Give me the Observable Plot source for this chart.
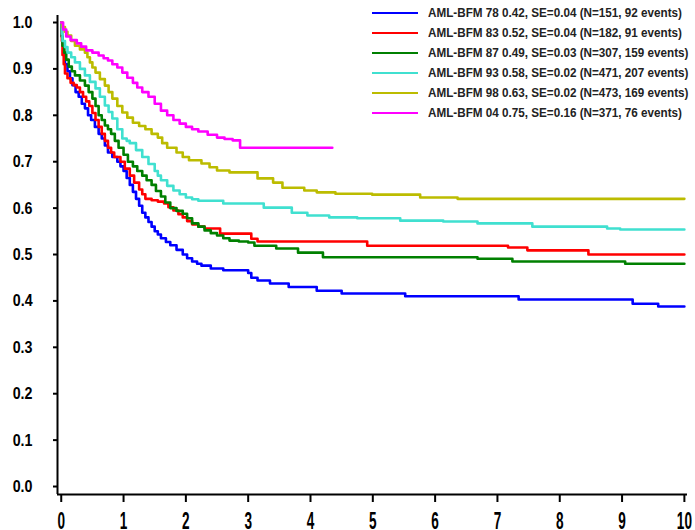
<!DOCTYPE html>
<html>
<head>
<meta charset="utf-8">
<script src="https://cdn.jsdelivr.net/npm/d3@7"></script>
<script src="https://cdn.jsdelivr.net/npm/@observablehq/plot@0.6"></script>
<style>
  body { margin: 0; background: #fff; }
  #wrap { position: relative; width: 695px; height: 530px; }
  #legend { position: absolute; left: 372px; top: 3px; font-family: "Liberation Sans", Arial, sans-serif; font-weight: bold; font-size: 12.5px; color: #222; white-space: nowrap; }
  .row { display: flex; align-items: center; height: 20px; }
  .sw { width: 46px; height: 2px; margin-right: 10px; flex: none; }
  .lt { display: inline-block; transform-origin: left center; }
</style>
</head>
<body>
<div id="wrap"><div id="legend"></div></div>
<script>
const FONT = '"Liberation Sans", Arial, sans-serif';

const seriesNames = ["AML-BFM 78", "AML-BFM 83", "AML-BFM 87", "AML-BFM 93", "AML-BFM 98", "AML-BFM 04"];
const legendStats = [
  "0.42, SE=0.04 (N=151, 92 events)",
  "0.52, SE=0.04 (N=182, 91 events)",
  "0.49, SE=0.03 (N=307, 159 events)",
  "0.58, SE=0.02 (N=471, 207 events)",
  "0.63, SE=0.02 (N=473, 169 events)",
  "0.75, SE=0.16 (N=371, 76 events)"
];
const colors = ["#0000ff", "#ff0000", "#008000", "#40e0d0", "#bcbc00", "#ff00ff"];

const xTicks = [0, 1, 2, 3, 4, 5, 6, 7, 8, 9, 10];
const yTicks = [0, 0.1, 0.2, 0.3, 0.4, 0.5, 0.6, 0.7, 0.8, 0.9, 1.0];
const xDomain = [-0.06, 10.05];
const yDomain = [-0.0172, 1.0151];

// AML-BFM 78
const t78 = [0, 0.01, 0.02, 0.04, 0.06, 0.1, 0.14, 0.18, 0.23, 0.28, 0.33, 0.38, 0.43, 0.48, 0.54, 0.6, 0.65, 0.7, 0.75, 0.82, 0.9, 0.95, 1.0, 1.05, 1.1, 1.15, 1.2, 1.25, 1.3, 1.35, 1.4, 1.45, 1.5, 1.55, 1.6, 1.68, 1.75, 1.85, 1.95, 2.02, 2.1, 2.18, 2.25, 2.4, 2.6, 3.0, 3.05, 3.15, 3.35, 3.65, 4.1, 4.5, 5.52, 7.34, 9.17, 9.58, 10.0];
const s78 = [1.0, 0.97, 0.95, 0.93, 0.91, 0.895, 0.88, 0.865, 0.85, 0.84, 0.825, 0.815, 0.80, 0.79, 0.775, 0.76, 0.75, 0.735, 0.72, 0.71, 0.70, 0.69, 0.68, 0.665, 0.65, 0.635, 0.62, 0.605, 0.59, 0.58, 0.57, 0.56, 0.55, 0.543, 0.535, 0.527, 0.52, 0.51, 0.50, 0.492, 0.485, 0.48, 0.476, 0.47, 0.466, 0.46, 0.45, 0.444, 0.4375, 0.43, 0.422, 0.416, 0.41, 0.403, 0.394, 0.388, 0.388];
// AML-BFM 83
const t83 = [0, 0.01, 0.02, 0.04, 0.06, 0.1, 0.15, 0.2, 0.25, 0.3, 0.35, 0.4, 0.45, 0.5, 0.55, 0.6, 0.65, 0.7, 0.75, 0.8, 0.85, 0.95, 1.02, 1.1, 1.17, 1.25, 1.3, 1.35, 1.45, 1.55, 1.65, 1.72, 1.8, 1.88, 1.95, 2.02, 2.1, 2.2, 2.3, 2.55, 3.05, 3.15, 4.91, 7.17, 7.48, 8.46, 10.0];
const s83 = [1.0, 0.96, 0.93, 0.91, 0.89, 0.88, 0.87, 0.865, 0.86, 0.85, 0.84, 0.83, 0.82, 0.805, 0.79, 0.775, 0.76, 0.745, 0.73, 0.72, 0.71, 0.70, 0.685, 0.67, 0.655, 0.64, 0.63, 0.62, 0.617, 0.614, 0.61, 0.602, 0.595, 0.587, 0.58, 0.572, 0.565, 0.56, 0.556, 0.545, 0.534, 0.528, 0.519, 0.515, 0.509, 0.50, 0.50];
// AML-BFM 87
const t87 = [0, 0.01, 0.02, 0.05, 0.08, 0.12, 0.17, 0.22, 0.3, 0.38, 0.44, 0.5, 0.55, 0.6, 0.65, 0.7, 0.75, 0.8, 0.86, 0.92, 1.0, 1.07, 1.15, 1.22, 1.3, 1.37, 1.45, 1.52, 1.6, 1.67, 1.75, 1.85, 1.95, 2.02, 2.1, 2.2, 2.3, 2.4, 2.5, 2.6, 2.7, 2.85, 3.0, 3.1, 3.45, 3.8, 4.2, 6.68, 7.24, 9.05, 10.0];
const s87 = [1.0, 0.97, 0.95, 0.935, 0.92, 0.905, 0.895, 0.886, 0.875, 0.864, 0.85, 0.836, 0.82, 0.80, 0.79, 0.778, 0.77, 0.76, 0.745, 0.73, 0.715, 0.70, 0.69, 0.68, 0.67, 0.66, 0.65, 0.637, 0.625, 0.612, 0.60, 0.594, 0.588, 0.578, 0.567, 0.56, 0.552, 0.546, 0.541, 0.535, 0.53, 0.528, 0.526, 0.519, 0.513, 0.504, 0.494, 0.491, 0.485, 0.48, 0.48];
// AML-BFM 93
const t93 = [0, 0.01, 0.02, 0.06, 0.1, 0.16, 0.22, 0.3, 0.38, 0.46, 0.55, 0.62, 0.7, 0.76, 0.82, 0.9, 0.98, 1.05, 1.1, 1.2, 1.3, 1.4, 1.5, 1.55, 1.6, 1.7, 1.8, 1.9, 2.0, 2.1, 2.2, 2.6, 3.25, 3.7, 3.95, 4.3, 4.75, 5.44, 6.13, 6.68, 7.56, 8.76, 8.97, 10.0];
const s93 = [1.0, 0.975, 0.96, 0.947, 0.935, 0.925, 0.914, 0.9, 0.886, 0.872, 0.858, 0.84, 0.821, 0.807, 0.793, 0.77, 0.75, 0.745, 0.74, 0.725, 0.71, 0.695, 0.68, 0.67, 0.66, 0.648, 0.638, 0.63, 0.623, 0.619, 0.616, 0.61, 0.601, 0.59, 0.584, 0.58, 0.578, 0.573, 0.571, 0.567, 0.56, 0.556, 0.554, 0.554];
// AML-BFM 98
const t98 = [0, 0.02, 0.06, 0.1, 0.16, 0.22, 0.3, 0.38, 0.42, 0.46, 0.5, 0.55, 0.62, 0.7, 0.76, 0.82, 0.9, 0.98, 1.06, 1.15, 1.25, 1.35, 1.45, 1.55, 1.62, 1.7, 1.85, 1.95, 2.05, 2.25, 2.38, 2.5, 2.7, 3.15, 3.4, 3.55, 3.9, 4.1, 4.4, 4.99, 5.76, 6.36, 10.0];
const s98 = [1.0, 0.99, 0.98, 0.972, 0.96, 0.95, 0.942, 0.935, 0.925, 0.914, 0.903, 0.892, 0.878, 0.864, 0.85, 0.836, 0.82, 0.806, 0.795, 0.784, 0.777, 0.77, 0.76, 0.752, 0.74, 0.73, 0.72, 0.71, 0.703, 0.696, 0.688, 0.681, 0.677, 0.664, 0.655, 0.644, 0.638, 0.634, 0.631, 0.629, 0.623, 0.62, 0.62];
// AML-BFM 04
const t04 = [0, 0.03, 0.08, 0.15, 0.25, 0.32, 0.4, 0.5, 0.6, 0.68, 0.75, 0.82, 0.9, 0.98, 1.06, 1.15, 1.22, 1.3, 1.4, 1.5, 1.6, 1.7, 1.8, 1.9, 2.0, 2.1, 2.2, 2.35, 2.5, 2.62, 2.75, 2.87, 4.35];
const s04 = [1.0, 0.985, 0.97, 0.962, 0.955, 0.948, 0.94, 0.935, 0.929, 0.923, 0.918, 0.91, 0.903, 0.892, 0.881, 0.87, 0.86, 0.85, 0.84, 0.825, 0.81, 0.80, 0.79, 0.782, 0.775, 0.77, 0.765, 0.758, 0.752, 0.749, 0.746, 0.73, 0.73];

const times = [t78, t83, t87, t93, t98, t04];
const surv = [s78, s83, s87, s93, s98, s04];

const rows = [];
seriesNames.forEach((name, i) => {
  times[i].forEach((t, j) => rows.push({series: name, t, s: surv[i][j]}));
});

const plot = Plot.plot({
  width: 695,
  height: 530,
  marginLeft: 57,
  marginRight: 8,
  marginTop: 15,
  marginBottom: 36,
  style: {fontFamily: FONT, fontWeight: "bold", fontSize: "17px", color: "#000", background: "white"},
  x: {domain: xDomain},
  y: {domain: yDomain},
  color: {domain: seriesNames, range: colors},
  marks: [
    Plot.axisY(yTicks, {tickSize: 4, tickPadding: 21, tickFormat: d3.format(".1f"), strokeWidth: 2, fontSize: 17, fontWeight: "bold", label: null}),
    Plot.axisX(xTicks, {tickSize: 8, tickPadding: 9, strokeWidth: 2, fontSize: 17, fontWeight: "bold", label: null}),
    Plot.ruleX([xDomain[0]], {strokeWidth: 2}),
    Plot.ruleY([yDomain[0]], {strokeWidth: 2}),
    Plot.line(rows, {x: "t", y: "s", z: "series", stroke: "series", curve: "step-after", strokeWidth: 2.6})
  ]
});

document.getElementById("wrap").prepend(plot);

// condense the tick labels (narrow bold face as in the reference); x labels also stretched vertically
const NS = "http://www.w3.org/2000/svg";
function squeeze(sel, sx, sy, anchor) {
  plot.querySelectorAll(sel + " text").forEach(t => {
    const parent = t.parentNode;
    const r = t.getBoundingClientRect();
    const sxp = anchor === "end" ? r.right : r.left + r.width / 2;
    const m = parent.getScreenCTM().inverse();
    const p = new DOMPoint(sxp, r.top).matrixTransform(m);
    const g = document.createElementNS(NS, "g");
    g.setAttribute("transform", `translate(${p.x},${p.y}) scale(${sx},${sy}) translate(${-p.x},${-p.y})`);
    parent.insertBefore(g, t);
    g.appendChild(t);
  });
}
squeeze('g[aria-label="y-axis tick label"]', 0.84, 1, "end");
squeeze('g[aria-label="x-axis tick label"]', 0.8, 1.36, "middle");

const legend = d3.select("#legend");
seriesNames.forEach((name, i) => {
  const r = legend.append("div").attr("class", "row");
  r.append("span").attr("class", "sw").style("background", colors[i]);
  r.append("span").attr("class", "lt").text(`${name} ${legendStats[i]}`);
});
const lts = document.querySelectorAll("#legend .lt");
const k = 254 / lts[0].getBoundingClientRect().width;
lts.forEach(el => { el.style.transform = `scaleX(${k})`; });
</script>
</body>
</html>
